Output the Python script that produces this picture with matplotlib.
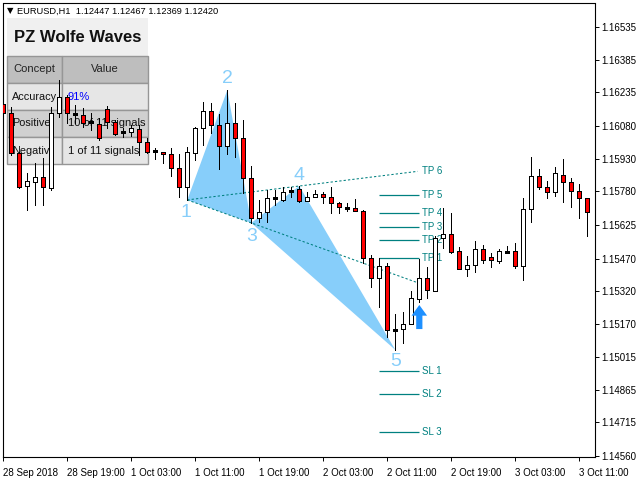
import matplotlib
matplotlib.use("Agg")
import matplotlib.pyplot as plt
from matplotlib.patches import Rectangle, Polygon
from matplotlib.transforms import Affine2D

# ---- EURUSD H1 candles (open, high, low, close) ----
opens = [1.16182, 1.16140, 1.15956, 1.15804, 1.15823, 1.15846, 1.15795, 1.16140, 1.16214, 1.16136,
         1.16131, 1.16099, 1.16090, 1.16159, 1.16099, 1.16053, 1.16053, 1.16067, 1.16007, 1.15965,
         1.15961, 1.15951, 1.15887, 1.15800, 1.15956, 1.16071, 1.16150, 1.16085, 1.15988, 1.16094,
         1.16025, 1.15841, 1.15657, 1.15684, 1.15749, 1.15740, 1.15781, 1.15790, 1.15735, 1.15753,
         1.15767, 1.15753, 1.15726, 1.15703, 1.15703, 1.15689, 1.15472, 1.15380, 1.15435, 1.15141,
         1.15145, 1.15168, 1.15284, 1.15380, 1.15320, 1.15565, 1.15583, 1.15505, 1.15422, 1.15440,
         1.15514, 1.15477, 1.15459, 1.15500, 1.15505, 1.15435, 1.15698, 1.15850, 1.15800, 1.15777,
         1.15855, 1.15823, 1.15781, 1.15749]
highs = [1.16223, 1.16168, 1.15961, 1.15864, 1.15910, 1.15933, 1.16168, 1.16292, 1.16223, 1.16177,
         1.16163, 1.16140, 1.16117, 1.16173, 1.16108, 1.16071, 1.16085, 1.16085, 1.16025, 1.15979,
         1.15961, 1.15979, 1.15951, 1.15984, 1.16076, 1.16191, 1.16187, 1.16136, 1.16246, 1.16187,
         1.16108, 1.15896, 1.15740, 1.15786, 1.15786, 1.15800, 1.15800, 1.15804, 1.15777, 1.15786,
         1.15777, 1.15800, 1.15730, 1.15726, 1.15744, 1.15694, 1.15486, 1.15472, 1.15449, 1.15214,
         1.15224, 1.15320, 1.15468, 1.15431, 1.15574, 1.15703, 1.15680, 1.15523, 1.15482, 1.15551,
         1.15532, 1.15495, 1.15514, 1.15528, 1.15542, 1.15749, 1.15938, 1.15882, 1.15827, 1.15892,
         1.15928, 1.15841, 1.15813, 1.15749]
lows = [1.16117, 1.15947, 1.15795, 1.15694, 1.15717, 1.15717, 1.15786, 1.16122, 1.16094, 1.16094,
        1.16076, 1.16062, 1.16016, 1.16071, 1.16039, 1.16030, 1.16034, 1.15947, 1.15956, 1.15928,
        1.15910, 1.15850, 1.15753, 1.15740, 1.15924, 1.15993, 1.16048, 1.15882, 1.15951, 1.15938,
        1.15772, 1.15634, 1.15638, 1.15638, 1.15717, 1.15735, 1.15753, 1.15730, 1.15735, 1.15753,
        1.15726, 1.15680, 1.15680, 1.15689, 1.15689, 1.15449, 1.15339, 1.15247, 1.15108, 1.15049,
        1.15081, 1.15168, 1.15270, 1.15288, 1.15320, 1.15519, 1.15495, 1.15422, 1.15389, 1.15408,
        1.15449, 1.15431, 1.15449, 1.15495, 1.15426, 1.15371, 1.15638, 1.15790, 1.15749, 1.15758,
        1.15730, 1.15707, 1.15657, 1.15574]
closes = [1.16140, 1.15956, 1.15800, 1.15827, 1.15846, 1.15800, 1.16140, 1.16214, 1.16140, 1.16136,
          1.16094, 1.16099, 1.16025, 1.16099, 1.16044, 1.16053, 1.16071, 1.16007, 1.15961, 1.15965,
          1.15951, 1.15887, 1.15800, 1.15961, 1.16071, 1.16150, 1.16085, 1.15988, 1.16094, 1.16025,
          1.15841, 1.15657, 1.15684, 1.15749, 1.15749, 1.15777, 1.15781, 1.15735, 1.15753, 1.15767,
          1.15753, 1.15726, 1.15707, 1.15703, 1.15689, 1.15472, 1.15380, 1.15435, 1.15141, 1.15141,
          1.15168, 1.15288, 1.15380, 1.15325, 1.15565, 1.15583, 1.15500, 1.15422, 1.15440, 1.15514,
          1.15463, 1.15463, 1.15505, 1.15500, 1.15435, 1.15698, 1.15850, 1.15800, 1.15777, 1.15864,
          1.15823, 1.15781, 1.15749, 1.15684]

# ---- axis labels ----
price_ticks = [1.16535, 1.16385, 1.16235, 1.16080, 1.15930, 1.15780, 1.15625,
               1.15470, 1.15320, 1.15170, 1.15015, 1.14865, 1.14715, 1.14560]
time_tick_bars = [0, 8, 16, 24, 32, 40, 48, 56, 64, 72]
time_tick_labels = ["28 Sep 2018", "28 Sep 19:00", "1 Oct 03:00", "1 Oct 11:00", "1 Oct 19:00",
                    "2 Oct 03:00", "2 Oct 11:00", "2 Oct 19:00", "3 Oct 03:00", "3 Oct 11:00"]

# ---- Wolfe wave pivots (bar index, price) ----
wave_bars = [23, 28, 31, 37, 49]
wave_prices = [1.15740, 1.16246, 1.15634, 1.15804, 1.15049]
wave_names = ["1", "2", "3", "4", "5"]
projection_end_bar = 51.8

# ---- targets / stops ----
tp_names = ["TP 1", "TP 2", "TP 3", "TP 4", "TP 5"]
tp_prices = [1.15472, 1.15555, 1.15615, 1.15680, 1.15763]
sl_names = ["SL 1", "SL 2", "SL 3"]
sl_prices = [1.14952, 1.14846, 1.14671]
level_start_bar, level_end_bar = 47, 52
signal_bar = 52
signal_tail, signal_tip = 1.15145, 1.15256

# ---- statistics panel ----
panel_title = "PZ Wolfe Waves"
panel_header = ["Concept", "Value"]
panel_rows = [("Accuracy", "91%"), ("Positive", "10 of 11 signals"), ("Negative", "1 of 11 signals")]

symbol_line = "EURUSD,H1  1.12447 1.12467 1.12369 1.12420"

TEAL = "#008080"
WAVE_BLUE = "#87CEFA"
FONT = ["Liberation Sans", "DejaVu Sans"]

W, H = 640, 480
fig = plt.figure(figsize=(W / 100, H / 100), dpi=100)
left, right, top, bottom = 2.5, 595.0, 3.5, 457.0
ax = fig.add_axes([left / W, 1 - bottom / H, (right - left) / W, (bottom - top) / H])

# pixel coordinates measured from the top-left corner of the figure
px = Affine2D().scale(1 / W, -1 / H).translate(0, 1) + fig.transFigure

bar0_px, bar_step = 3.3, 8.0
ax.set_xlim((left - bar0_px) / bar_step, (right - bar0_px) / bar_step)
ax.set_ylim(1.145556, 1.166449)

# ---- statistics panel (drawn beneath the candles) ----
x0, xs, x1 = 7, 62, 148
ax.add_patch(Rectangle((x0, 18), x1 - x0, 38, transform=px, facecolor="#F0F0F0",
                       edgecolor="none", zorder=0.5, clip_on=False))
ax.text(78, 37.5, panel_title, transform=px, ha="center", va="center", fontsize=12,
        fontweight="bold", family=FONT, color="#111111", zorder=0.6)
row_tops = [56, 83, 110, 137]
row_h = 27
row_colors = ["#BEBEBE", "#E6E6E6", "#D0D0D0", "#E6E6E6"]
label_widths = [None, 55, 55, 43]   # visible width of the concept label in each row
grid_col = "#969696"
for k, (yt, col) in enumerate(zip(row_tops, row_colors)):
    for (cx, cw) in [(x0, xs - x0), (xs, x1 - xs)]:
        cell = Rectangle((cx, yt), cw, row_h, transform=px, facecolor=col,
                         edgecolor=grid_col, lw=1.0, zorder=0.5, clip_on=False)
        ax.add_patch(cell)
    yc = yt + row_h / 2
    if k == 0:
        ax.text((x0 + xs) / 2, yc, panel_header[0], transform=px, ha="center", va="center",
                fontsize=8, family=FONT, color="#222222", zorder=0.6)
        ax.text((xs + x1) / 2, yc, panel_header[1], transform=px, ha="center", va="center",
                fontsize=8, family=FONT, color="#222222", zorder=0.6)
    else:
        name, val = panel_rows[k - 1]
        clip_cell = Rectangle((x0, yt), label_widths[k], row_h, transform=px,
                              facecolor="none", edgecolor="none")
        t = ax.text(12, yc, name, transform=px, ha="left", va="center", fontsize=7.8,
                    family=FONT, color="#111111", zorder=0.6, clip_on=True)
        t.set_clip_path(clip_cell)
        ax.text(68, yc, val, transform=px, ha="left", va="center", fontsize=8, family=FONT,
                color="#0000FF" if k == 1 else "#111111", zorder=0.6)

# ---- Wolfe wave triangles ----
p = list(zip(wave_bars, wave_prices))
ax.add_patch(Polygon([p[0], p[1], p[2]], closed=True, facecolor=WAVE_BLUE,
                     edgecolor="none", zorder=1))
ax.add_patch(Polygon([p[2], p[3], p[4]], closed=True, facecolor=WAVE_BLUE,
                     edgecolor="none", zorder=1))

# projected lines 1-4 and 1-3
dash = (0, (2.2, 2.0))
for j in (3, 2):
    slope = (wave_prices[j] - wave_prices[0]) / (wave_bars[j] - wave_bars[0])
    y_end = wave_prices[0] + slope * (projection_end_bar - wave_bars[0])
    ax.plot([wave_bars[0], projection_end_bar], [wave_prices[0], y_end], color=TEAL,
            lw=0.75, linestyle=dash, zorder=1.5)
    if j == 3:
        ax.text(projection_end_bar + 0.55, y_end, "TP 6", color=TEAL, fontsize=7,
                family=FONT, va="center", ha="left")

offsets = [(-1, -13), (0, 12), (0, -14), (0, 11), (0, -12)]
for b, pr, name, off in zip(wave_bars, wave_prices, wave_names, offsets):
    ax.annotate(name, (b, pr), xytext=off, textcoords="offset pixels", ha="center",
                va="center", fontsize=14, color=WAVE_BLUE, family=FONT, zorder=4)

# ---- target and stop levels ----
for name, lvl in list(zip(tp_names, tp_prices)) + list(zip(sl_names, sl_prices)):
    ax.plot([level_start_bar, level_end_bar], [lvl, lvl], color=TEAL, lw=0.9, zorder=1.5,
            solid_capstyle="butt")
    ax.text(level_end_bar + 0.4, lvl, name, color=TEAL, fontsize=7, family=FONT,
            va="center", ha="left", zorder=1.6)

# ---- candles ----
body_w = 0.5
for i, (o, h, l, c) in enumerate(zip(opens, highs, lows, closes)):
    ax.plot([i, i], [l, h], color="black", lw=0.55, zorder=3, antialiased=False,
            solid_capstyle="butt")
    if abs(c - o) < 1e-7:
        ax.plot([i - body_w / 2, i + body_w / 2], [o, o], color="black", lw=0.8, zorder=3.1,
                antialiased=False, solid_capstyle="butt")
    else:
        ax.add_patch(Rectangle((i - body_w / 2, min(o, c)), body_w, abs(c - o),
                               facecolor="white" if c > o else "#FF0000",
                               edgecolor="black", lw=0.55, zorder=3.1, antialiased=False))

# ---- buy signal arrow ----
ax.annotate("", xy=(signal_bar, signal_tip), xytext=(signal_bar, signal_tail),
            arrowprops=dict(arrowstyle="simple,head_length=0.55,head_width=0.8,tail_width=0.32",
                            color="#1E90FF", lw=0, shrinkA=0, shrinkB=0, mutation_scale=14),
            zorder=4)

# ---- axes styling ----
for s in ax.spines.values():
    s.set_linewidth(0.8)
    s.set_color("black")
ax.yaxis.tick_right()
ax.set_yticks(price_ticks)
ax.set_yticklabels([f"{v:.5f}" for v in price_ticks])
ax.tick_params(axis="y", direction="out", length=3, width=0.7, pad=1.5, labelsize=7)
ax.set_xticks(time_tick_bars)
ax.set_xticklabels(time_tick_labels)
ax.tick_params(axis="x", direction="out", length=3, width=0.7, pad=5, labelsize=7)
for lab in ax.get_xticklabels() + ax.get_yticklabels():
    lab.set_family(FONT)
for lab in ax.get_xticklabels():
    lab.set_ha("left")

fig.text(7 / W, 1 - 11 / H, "\u25BC", fontsize=6, family=["DejaVu Sans"], va="center", ha="left")
fig.text(17 / W, 1 - 11 / H, symbol_line, fontsize=6.7, family=FONT, va="center", ha="left")

fig.savefig("out.png", dpi=100, facecolor="white")
